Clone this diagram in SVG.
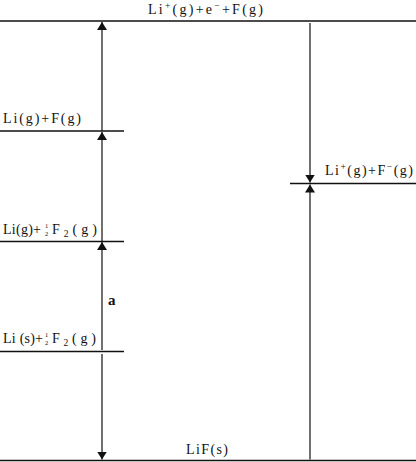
<svg xmlns="http://www.w3.org/2000/svg" width="416" height="462" viewBox="0 0 416 462">
<style>
.t{font-family:"Liberation Serif","Times New Roman",serif;font-size:14px;fill:#111}
.s{font-size:9.5px}
.f{font-family:"Liberation Serif","Times New Roman",serif;font-size:6.5px;fill:#111}
.lv{stroke:#111;stroke-width:1.3;fill:none}
.ar{stroke:#111;stroke-width:1.2;fill:none}
.b{font-family:"Liberation Serif","Times New Roman",serif;font-size:15px;font-weight:bold;fill:#111}
</style>
<defs>
<marker id="ah" viewBox="0 0 8 10" refX="8" refY="5" markerWidth="8" markerHeight="10" markerUnits="userSpaceOnUse" orient="auto">
<path d="M0,0 L8,5 L0,10 Z" fill="#111"/>
</marker>
</defs>
<g id="connectors">
<line class="ar" x1="102" y1="131" x2="102" y2="22" marker-end="url(#ah)"/>
<line class="ar" x1="102" y1="241" x2="102" y2="132" marker-end="url(#ah)"/>
<line class="ar" x1="102" y1="350" x2="102" y2="242" marker-end="url(#ah)"/>
<line class="ar" x1="102" y1="354" x2="102" y2="459.5" marker-end="url(#ah)"/>
<line class="ar" x1="310" y1="23" x2="310" y2="182.5" marker-end="url(#ah)"/>
<line class="ar" x1="310" y1="459.5" x2="310" y2="184.5" marker-end="url(#ah)"/>
<text class="b" x="108" y="305">a</text>
</g>
<g id="node-top">
<line class="lv" x1="0" y1="21" x2="416" y2="21"/>
<text class="t" x="148" y="13.5" textLength="115" lengthAdjust="spacing">Li<tspan class="s" dy="-5">+</tspan><tspan dy="5">(g)+e</tspan><tspan class="s" dy="-5">−</tspan><tspan dy="5">+F(g)</tspan></text>
</g>
<g id="node-lig-fg">
<line class="lv" x1="0" y1="131" x2="124" y2="131"/>
<text class="t" x="3" y="123" textLength="78" lengthAdjust="spacing">Li(g)+F(g)</text>
</g>
<g id="node-lig-f2">
<line class="lv" x1="0" y1="241.5" x2="124" y2="241.5"/>
<text class="t" x="3" y="234" textLength="38" lengthAdjust="spacing">Li(g)+</text>
<text class="f" x="45" y="228">1</text>
<text class="f" x="45" y="235.5">2</text>
<text class="t" x="52" y="234" textLength="45" lengthAdjust="spacing">F<tspan class="s" dy="3">2</tspan><tspan dy="-3">(g)</tspan></text>
</g>
<g id="node-lis-f2">
<line class="lv" x1="0" y1="351.5" x2="124" y2="351.5"/>
<text class="t" x="3" y="343" textLength="40" lengthAdjust="spacing">Li (s)+</text>
<text class="f" x="45" y="337">1</text>
<text class="f" x="45" y="344.5">2</text>
<text class="t" x="52" y="343" textLength="44" lengthAdjust="spacing">F<tspan class="s" dy="3">2</tspan><tspan dy="-3">(g)</tspan></text>
</g>
<g id="node-ions">
<line class="lv" x1="290" y1="183.5" x2="416" y2="183.5"/>
<text class="t" x="325" y="174.5" textLength="88" lengthAdjust="spacing">Li<tspan class="s" dy="-5">+</tspan><tspan dy="5">(g)+F</tspan><tspan class="s" dy="-5">−</tspan><tspan dy="5">(g)</tspan></text>
</g>
<g id="node-lif">
<line class="lv" x1="0" y1="460.5" x2="416" y2="460.5"/>
<text class="t" x="186" y="454" textLength="42" lengthAdjust="spacing">LiF(s)</text>
</g>
</svg>
